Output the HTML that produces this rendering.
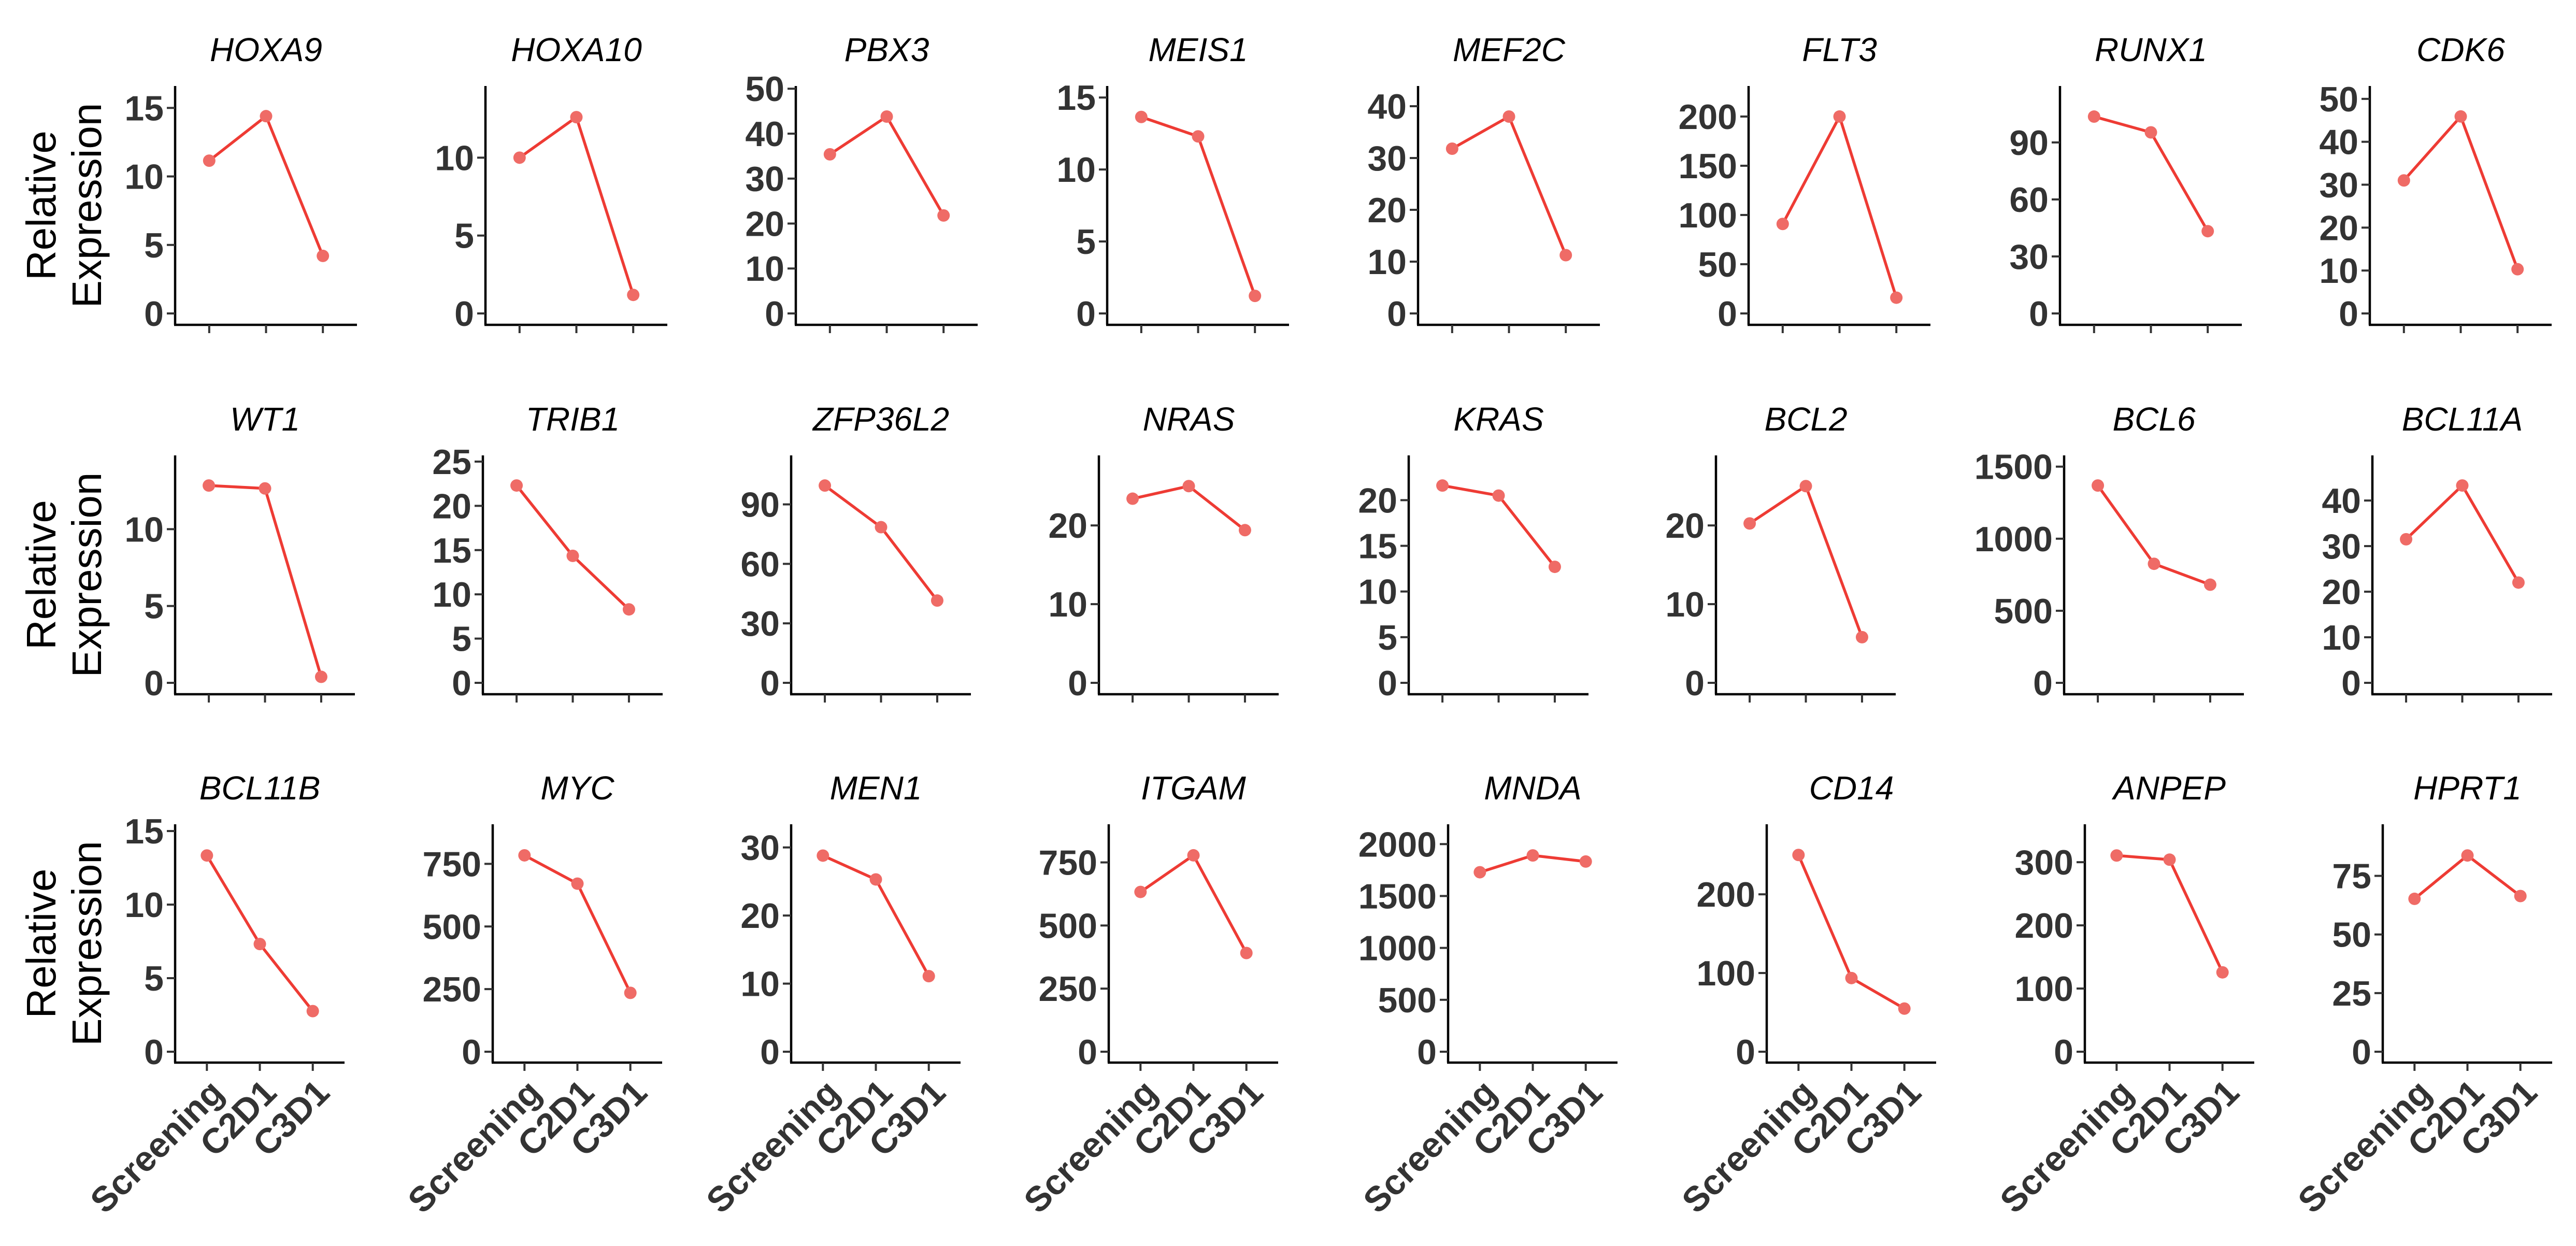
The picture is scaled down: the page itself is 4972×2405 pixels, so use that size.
<!DOCTYPE html>
<html><head><meta charset="utf-8"><style>
html,body{margin:0;padding:0;background:#fff;}
svg{display:block;}
</style></head><body>
<svg id="fig" width="4972" height="2405" viewBox="0 0 4972 2405" xmlns="http://www.w3.org/2000/svg">
<rect width="4972" height="2405" fill="#fff"/>
</svg>
<script>
const genes = ["HOXA9","HOXA10","PBX3","MEIS1","MEF2C","FLT3","RUNX1","CDK6",
 "WT1","TRIB1","ZFP36L2","NRAS","KRAS","BCL2","BCL6","BCL11A",
 "BCL11B","MYC","MEN1","ITGAM","MNDA","CD14","ANPEP","HPRT1"];
const categories = ["Screening","C2D1","C3D1"];
const screening = [11.15,10.0,35.4,13.65,31.8,90.9,103.6,31.0,
 12.84,22.3,99.5,23.4,21.6,20.25,1369,31.5,
 13.34,784,28.8,633,1729,250,310.6,65.2];
const c2d1 = [14.4,12.6,43.8,12.3,38.0,200,95.3,45.9,
 12.65,14.35,78.5,25.0,20.5,25.0,826,43.3,
 7.32,671,25.3,778,1891,93.6,304,83.7];
const c3d1 = [4.2,1.19,21.8,1.22,11.25,16,43.3,10.3,
 0.39,8.3,41.5,19.4,12.7,5.8,681,22,
 2.76,235,11.1,391,1832,54.8,125.6,66.4];
const axisMax = [16.6,14.6,50.6,15.8,43.9,231,119.7,53,
 14.8,25.7,114.7,28.9,24.9,28.9,1578,49.9,
 15.46,908,33.4,901,2191,289,360,97];
const tickLabels = [
 [0,5,10,15],[0,5,10],[0,10,20,30,40,50],[0,5,10,15],[0,10,20,30,40],[0,50,100,150,200],[0,30,60,90],[0,10,20,30,40,50],
 [0,5,10],[0,5,10,15,20,25],[0,30,60,90],[0,10,20],[0,5,10,15,20],[0,10,20],[0,500,1000,1500],[0,10,20,30,40],
 [0,5,10,15],[0,250,500,750],[0,10,20,30],[0,250,500,750],[0,500,1000,1500,2000],[0,100,200],[0,100,200,300],[0,25,50,75]
];

// layout (pixels)
const rowTop = [166, 879, 1591];
const rowZero = [605, 1318, 2030];
const rowBottom = [627, 1340, 2051];
const rowWidth = [351, 347, 327];
const panelLeft = [
 [338,937,1536,2137,2737,3375,3976,4574],
 [338,932,1527,2121,2719,3312,3984,4579],
 [338,951,1527,2140,2795,3410,4024,4599]
];
const NS = "http://www.w3.org/2000/svg";
const svg = document.getElementById('fig');
function mk(tag, attrs, parent){
  const e = document.createElementNS(NS, tag);
  for (const k in attrs) e.setAttribute(k, attrs[k]);
  (parent||svg).appendChild(e);
  return e;
}
const FONT = '"Liberation Sans", Arial, sans-serif';

genes.forEach((g, i) => {
  const r = Math.floor(i / 8), c = i % 8;
  const x0 = panelLeft[r][c], w = rowWidth[r];
  const top = rowTop[r], zero = rowZero[r], bottom = rowBottom[r];
  const yScale = v => zero - v * (zero - top) / axisMax[i];
  const xScale = k => x0 + (k + 1 - 0.4) * w / 3.2;

  const grp = mk('g', {});
  
  

  const title = mk('text', {x: x0 + w/2, y: top - 48 + (r===0?0:0), 'text-anchor':'middle', 'font-family':FONT, 'font-style':'italic', 'font-size':64, fill:'#000'}, grp);
  title.textContent = g;
  
  

  // axes
  const ya = mk('line', {x1:x0, y1:top, x2:x0, y2:bottom, stroke:'#000', 'stroke-width':4.5}, grp);
  
  
  const xa = mk('line', {x1:x0-2, y1:bottom, x2:x0 + w, y2:bottom, stroke:'#000', 'stroke-width':4.5}, grp);
  
  

  tickLabels[i].forEach(t => {
    const y = yScale(t);
    const tk = mk('line', {x1:x0-16, y1:y, x2:x0, y2:y, stroke:'#333', 'stroke-width':4}, grp);
    
    
    const tl = mk('text', {x:x0-22, y:y+24, 'text-anchor':'end', 'font-family':FONT, 'font-weight':'bold', 'font-size':68, fill:'#333'}, grp);
    tl.textContent = t;
    
    
  });

  categories.forEach((cat, k) => {
    const x = xScale(k);
    const tk = mk('line', {x1:x, y1:bottom, x2:x, y2:bottom+16, stroke:'#333', 'stroke-width':4}, grp);
    
    
    if (r === 2) {
      const ax = x + 36, ay = bottom + 62;
      const tl = mk('text', {x:ax, y:ay, 'text-anchor':'end', transform:`rotate(-45 ${ax} ${ay})`, 'font-family':FONT, 'font-weight':'bold', 'font-size':68, fill:'#333'}, grp);
      tl.textContent = cat;
      
      
    }
  });

  const vals = [screening[i], c2d1[i], c3d1[i]];
  const pts = vals.map((v, k) => xScale(k) + ',' + yScale(v)).join(' ');
  const ln = mk('polyline', {points: pts, fill:'none', stroke:'#ee3b34', 'stroke-width':5.5, 'stroke-linejoin':'round'}, grp);
  
  
  vals.forEach((v, k) => {
    const p = mk('circle', {cx:xScale(k), cy:yScale(v), r:12, fill:'#ef6b66'}, grp);
    
    
  });

  if (c === 0) {
    const cy = (top + bottom) / 2;
    const yt = mk('text', {transform:`translate(0 ${cy}) rotate(-90)`, 'text-anchor':'middle', 'font-family':FONT, 'font-size':80, fill:'#000'}, grp);
    
    
    const t1 = mk('tspan', {x:0, y:107}, yt);
    t1.textContent = 'Relative';
    const t2 = mk('tspan', {x:0, y:195}, yt);
    t2.textContent = 'Expression';
  }
});
</script>
</body></html>
